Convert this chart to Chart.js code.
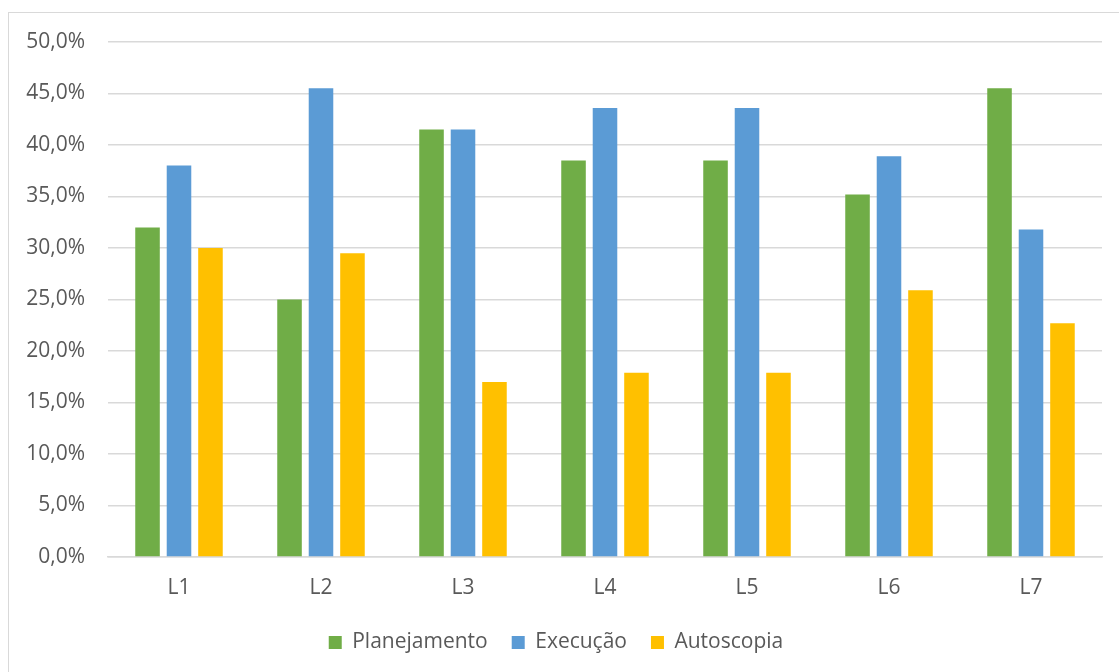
<!DOCTYPE html>
<html lang="pt">
<head>
<meta charset="utf-8">
<title>Planejamento, Execução e Autoscopia por licenciando</title>
<script src="https://cdn.jsdelivr.net/npm/chart.js@4/dist/chart.umd.min.js"></script>
<style>
  html, body { margin: 0; padding: 0; background: #ffffff; overflow: hidden; }
  #frame {
    position: absolute; left: 8px; top: 12px;
    width: 1300px; height: 900px;
    border: 1px solid #d9d9d9; box-sizing: border-box;
  }
  #wrap { position: absolute; left: 0; top: 0; width: 1119px; height: 720px; }
</style>
</head>
<body>
<div id="frame"></div>
<div id="wrap"><canvas id="chart"></canvas></div>
<script>
// Categories (licenciandos) and percentage per phase
const categories   = ['L1', 'L2', 'L3', 'L4', 'L5', 'L6', 'L7'];
const planejamento = [32.0, 25.0, 41.5, 38.5, 38.5, 35.2, 45.5];
const execucao     = [38.0, 45.5, 41.5, 43.6, 43.6, 38.9, 31.8];
const autoscopia   = [30.0, 29.5, 17.0, 17.9, 17.9, 25.9, 22.7];
const seriesNames  = ['Planejamento', 'Execução', 'Autoscopia'];

const TEXT = '#595959';
const GRID = '#d9d9d9';
const FONT = "'Open Sans', 'Noto Sans', sans-serif";

const pct = v => v.toFixed(1).replace('.', ',') + '%';

new Chart(document.getElementById('chart'), {
  type: 'bar',
  data: {
    labels: categories,
    datasets: [
      { label: seriesNames[0], data: planejamento, backgroundColor: '#70ad47' },
      { label: seriesNames[1], data: execucao,     backgroundColor: '#5b9bd5' },
      { label: seriesNames[2], data: autoscopia,   backgroundColor: '#ffc000' }
    ]
  },
  options: {
    responsive: true,
    maintainAspectRatio: false,
    animation: false,
    categoryPercentage: 0.665,
    barPercentage: 0.78,
    layout: { padding: { left: 10, right: 17, top: 42, bottom: 57 } },
    plugins: {
      legend: {
        position: 'bottom',
        labels: {
          boxWidth: 13, boxHeight: 13, padding: 24,
          color: TEXT, font: { family: FONT, size: 21 }
        }
      },
      tooltip: { enabled: false }
    },
    scales: {
      x: {
        grid: { display: false, drawTicks: false },
        border: { display: true, color: GRID, width: 1.5 },
        ticks: { color: TEXT, padding: 18, font: { family: FONT, size: 21 } },
        afterFit: s => { s.height = 51; }
      },
      y: {
        min: 0, max: 50,
        grid: { color: GRID, lineWidth: 1.5, drawTicks: false },
        border: { display: false },
        ticks: {
          stepSize: 5, color: TEXT, padding: 23,
          font: { family: FONT, size: 21 },
          callback: v => pct(v)
        },
        afterFit: s => { s.width = 98; }
      }
    }
  }
});
</script>
</body>
</html>
